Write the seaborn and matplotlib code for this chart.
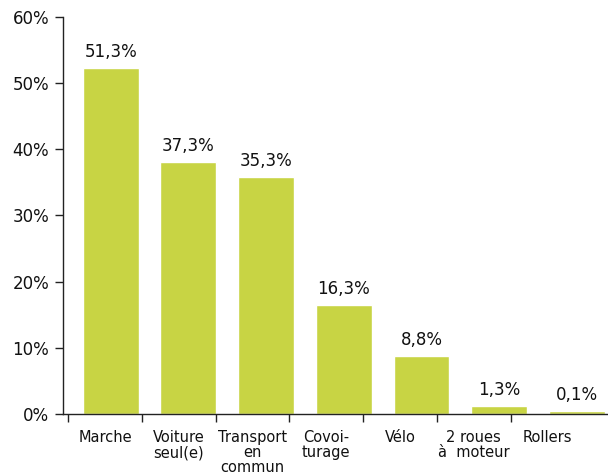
import numpy as np
import seaborn as sns
import matplotlib.pyplot as plt

categories = ["Marche", "Voiture\nseul(e)", "Transport\nen\ncommun", "Covoi-\nturage",
              "Vélo", "2 roues\nà  moteur", "Rollers"]
heights = [52.3, 38.1, 35.8, 16.4, 8.7, 1.2, 0.4]
labels = ["51,3%", "37,3%", "35,3%", "16,3%", "8,8%", "1,3%", "0,1%"]

sns.set_style("white")
plt.rcParams['font.family'] = ['DejaVu Sans']

fig = plt.figure(figsize=(6.08, 4.74), dpi=100)
ax = fig.add_axes([0.104, 0.127, 0.896, 0.837])

sns.barplot(x=list(range(len(heights))), y=heights, color="#c8d444",
            saturation=1, width=0.72, ax=ax)

for i, (h, lab) in enumerate(zip(heights, labels)):
    ax.annotate(lab, (i, h), xytext=(0, 5), textcoords="offset points",
                ha="center", va="bottom", fontsize=12, color="#111111")

ax.set_xlim(-0.61, 6.40)
ax.set_ylim(0, 60)
ax.set_yticks(range(0, 61, 10))
ax.set_yticklabels([f"{v}%" for v in range(0, 61, 10)], fontsize=12, color="#111111")

# category labels sit on their own slightly narrower grid, like the original
pos = np.arange(len(categories)) * 0.949 - 0.072
ax.set_xticks(pos)
ax.set_xticklabels(categories, fontsize=10.5, linespacing=1.0, color="#111111")
ax.set_xticks(pos - 0.4745, minor=True)
ax.tick_params(axis="x", which="major", bottom=True, length=0, pad=12)
ax.tick_params(axis="x", which="minor", bottom=True, length=6, width=1,
               direction="out", color="#222222")
ax.tick_params(axis="y", left=True, length=6, width=1, direction="out",
               color="#222222", pad=4)
ax.set_xlabel("")
ax.set_ylabel("")

sns.despine(ax=ax, top=True, right=True)
for s in ["left", "bottom"]:
    ax.spines[s].set_color("#222222")
    ax.spines[s].set_linewidth(1)

fig.savefig("out.png", dpi=100)
